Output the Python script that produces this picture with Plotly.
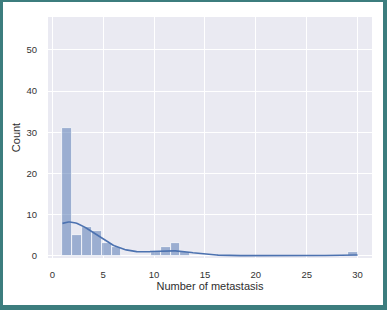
import numpy as np
import plotly.graph_objects as go

# Data: number of metastases per patient and how many patients
metastasis_values = [1, 2, 3, 4, 5, 6, 10, 11, 12, 13, 30]
patient_counts = [31, 5, 7, 6, 3, 2, 1, 2, 3, 1, 1]
n_bins = 30
x_ticks = [0, 5, 10, 15, 20, 25, 30]
y_ticks = [0, 10, 20, 30, 40, 50]

data = np.repeat(np.array(metastasis_values, dtype=float), patient_counts)
counts, edges = np.histogram(data, bins=n_bins)
centers = (edges[:-1] + edges[1:]) / 2
bw_bin = edges[1] - edges[0]

# Gaussian KDE (Scott's rule), scaled to counts, clipped to the data range
n = len(data)
bw = n ** (-1 / 5) * np.std(data, ddof=1)
xs = np.linspace(data.min(), data.max(), 200)
dens = np.exp(-0.5 * ((xs[:, None] - data[None, :]) / bw) ** 2).sum(axis=1) / (n * bw * np.sqrt(2 * np.pi))
kde_y = dens * n * bw_bin

fig = go.Figure()
fig.add_trace(go.Bar(
    x=centers, y=counts, width=bw_bin,
    marker=dict(color="rgba(76,114,176,0.5)", line=dict(color="white", width=0.75)),
    showlegend=False, hoverinfo="skip"))
fig.add_trace(go.Scatter(
    x=xs, y=kde_y, mode="lines",
    line=dict(color="#4C72B0", width=1.6), showlegend=False, hoverinfo="skip"))

W, H = 387, 310
L, R, T, B = 48, 15, 17, 52
pw, ph = W - L - R, H - T - B

def px2paper_x(p):
    return (p - L) / pw

def px2paper_y(p):
    return 1 - (p - T) / ph

teal = "#3C7D7E"
shapes = []
for (x0, x1, y0, y1) in [(0, 3, 0, H), (W - 4, W, 0, H), (0, W, 0, 2), (0, W, H - 5, H)]:
    shapes.append(dict(type="rect", xref="paper", yref="paper",
                       x0=px2paper_x(x0), x1=px2paper_x(x1),
                       y0=px2paper_y(y1), y1=px2paper_y(y0),
                       fillcolor=teal, line=dict(width=0), layer="above"))

font_family = "Liberation Sans, Arial, sans-serif"
fig.update_layout(
    width=W, height=H,
    margin=dict(l=L, r=R, t=T, b=B),
    paper_bgcolor="white", plot_bgcolor="#EAEAF2",
    bargap=0,
    font=dict(family=font_family, color="#2e2e2e"),
    shapes=shapes,
    xaxis=dict(range=[-0.42, 31.42], tickvals=x_ticks, showgrid=True, gridcolor="white",
               gridwidth=1, zeroline=False, showline=False, ticks="",
               ticklabelstandoff=9,
               tickfont=dict(size=9.5, color="#333333"),
               title=dict(text="Number of metastasis", font=dict(size=11, color="#2e2e2e"), standoff=3)),
    yaxis=dict(range=[-0.56, 58], tickvals=y_ticks, showgrid=True, gridcolor="white",
               gridwidth=1, zeroline=False, showline=False, ticks="",
               ticklabelstandoff=10,
               tickfont=dict(size=9.5, color="#333333"),
               title=dict(text="Count", font=dict(size=11, color="#2e2e2e"), standoff=3)),
)

fig.write_html("out.html")
